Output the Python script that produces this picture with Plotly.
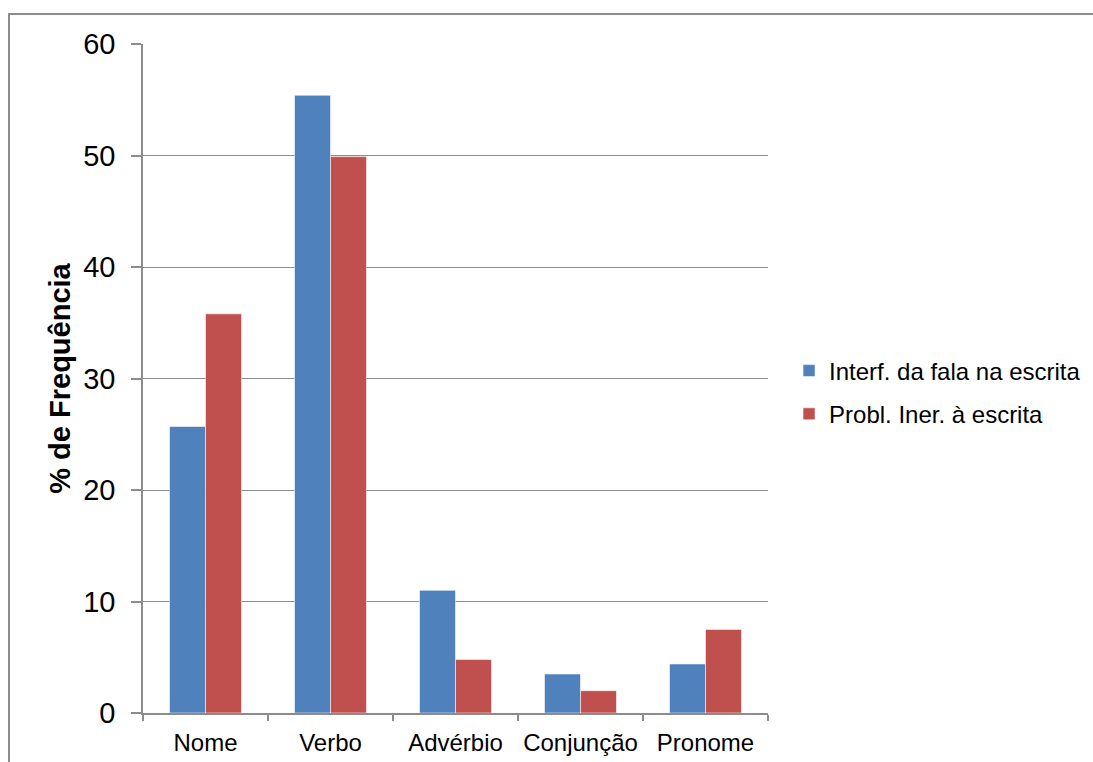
import plotly.graph_objects as go

# Word-class categories and the two series (% frequency)
categories = ["Nome", "Verbo", "Advérbio", "Conjunção", "Pronome"]
interf_fala = [25.7, 55.4, 11.0, 3.5, 4.4]
probl_escrita = [35.8, 49.9, 4.8, 2.0, 7.5]
series_names = ["Interf. da fala na escrita", "Probl. Iner. à escrita"]
y_ticks = [0, 10, 20, 30, 40, 50, 60]

FONT = "Liberation Sans, Arial, sans-serif"
GREY = "#8c8c8c"

fig = go.Figure()
fig.add_trace(go.Bar(
    x=categories, y=interf_fala, name=series_names[0], legendgroup="a",
    marker=dict(color="#4F81BD", line=dict(color="rgba(255,255,255,0.55)", width=1)),
))
fig.add_trace(go.Bar(
    x=categories, y=probl_escrita, name=series_names[1], legendgroup="b",
    marker=dict(color="#C0504D", line=dict(color="rgba(255,255,255,0.55)", width=1)),
))

fig.update_layout(
    width=1093, height=762,
    margin=dict(l=143, r=325, t=44, b=49, autoexpand=False),
    paper_bgcolor="white", plot_bgcolor="white",
    barmode="group", bargap=0.424, bargroupgap=0,
    font=dict(family=FONT, color="black"),
    showlegend=True,
    legend=dict(
        xref="container", yref="container",
        x=0.7219, y=0.4849, xanchor="left", yanchor="middle",
        font=dict(size=24, family=FONT), itemwidth=30,
        traceorder="grouped", tracegroupgap=9,
        bgcolor="rgba(0,0,0,0)",
    ),
    xaxis=dict(
        automargin=False,
        showgrid=False, showline=True, linecolor=GREY, linewidth=1.5,
        ticks="outside", tickson="boundaries", ticklen=6, tickcolor=GREY, tickwidth=1.5,
        tickfont=dict(size=24, family=FONT), ticklabelstandoff=7,
    ),
    yaxis=dict(
        automargin=False,
        range=[0, 60], tickvals=y_ticks, showgrid=True, gridcolor=GREY, gridwidth=1.2,
        showline=True, linecolor=GREY, linewidth=1.5, zeroline=False,
        ticks="outside", ticklen=10, tickcolor=GREY, tickwidth=1.5,
        tickfont=dict(size=29, family=FONT), ticklabelstandoff=10,
        title=dict(text="<b>% de Frequência</b>", font=dict(size=29, family=FONT), standoff=4),
    ),
    shapes=[dict(
        type="rect", xref="paper", yref="paper",
        x0=-0.2144, x1=3, y0=-2, y1=1.0448,
        line=dict(color=GREY, width=2), fillcolor="rgba(0,0,0,0)", layer="below",
    )],
)

fig.write_html("out.html")
